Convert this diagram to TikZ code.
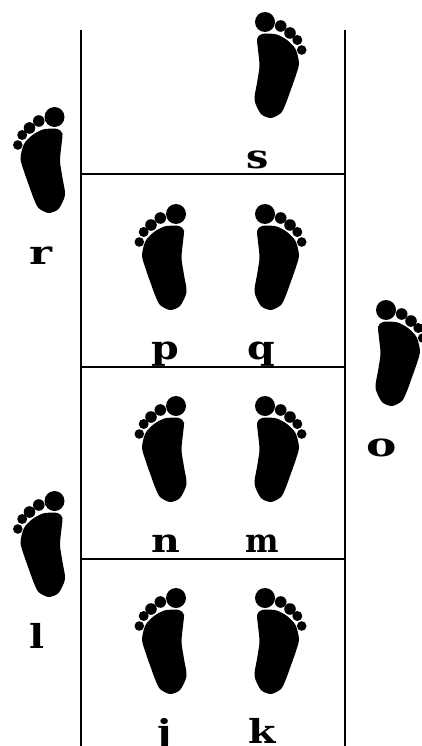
\documentclass[tikz,border=0pt]{standalone}
\usepackage{fontspec}
\setmainfont{DejaVu Serif}
\tikzset{
  letter/.style={anchor=base, inner sep=0pt, transform shape, xscale=1.2, font=\fontsize{33}{33}\selectfont\bfseries},
  wall/.style={line width=1.4pt, black},
  footprint/.pic={
    \fill (0,0) circle (10);
    \fill (15.7,4) circle (5.8);
    \fill (25,11) circle (5.8);
    \fill (32.3,18) circle (5);
    \fill (36.7,28) circle (4.8);
    \fill plot[smooth cycle, tension=0.45] coordinates {(-8,17) (-5,13) (0,11.5) (11.7,12.5) (22,18) (30.5,27) (34,41) (31,53) (25,70) (21,81) (16,91) (6,96) (-4,92) (-10.5,78) (-8,61) (-5.5,44) (-7,27.7)};
  }
}
\begin{document}
\begin{tikzpicture}[x=1pt, y=-1pt]
	\useasboundingbox (0,0) rectangle (422,746);
	\clip (0,0) rectangle (422,746);

	% corridor walls
	\draw[wall] (81,30) -- (81,746);
	\draw[wall] (345,30) -- (345,746);

	% rungs
	\foreach \y in {174,367,559}
		\draw[wall] (81,\y) -- (345,\y);

	% right feet
	\foreach \px/\py in {265/22, 265/214, 265/406, 265/598, 386/310}
		\pic at (\px,\py) {footprint};

	% left feet
	\foreach \px/\py in {54.5/117, 176/214, 176/406, 54.5/501, 176/598}
		\pic[xscale=-1] at (\px,\py) {footprint};

	% labels
	\node[letter] (s) at (258,168) {s};
	\node[letter, xscale=1.1] (r) at (41,264) {r};
	\node[letter] (p) at (165,359) {p};
	\node[letter] (q) at (261,359) {q};
	\node[letter, xscale=1.15] (o) at (382,456) {o};
	\node[letter] (n) at (166,552) {n};
	\node[letter, xscale=0.8] (m) at (262,552) {m};
	\node[letter] (l) at (37,648) {l};
	\node[letter] (j) at (165,743) {j};
	\node[letter] (k) at (262,743) {k};
\end{tikzpicture}
\end{document}
